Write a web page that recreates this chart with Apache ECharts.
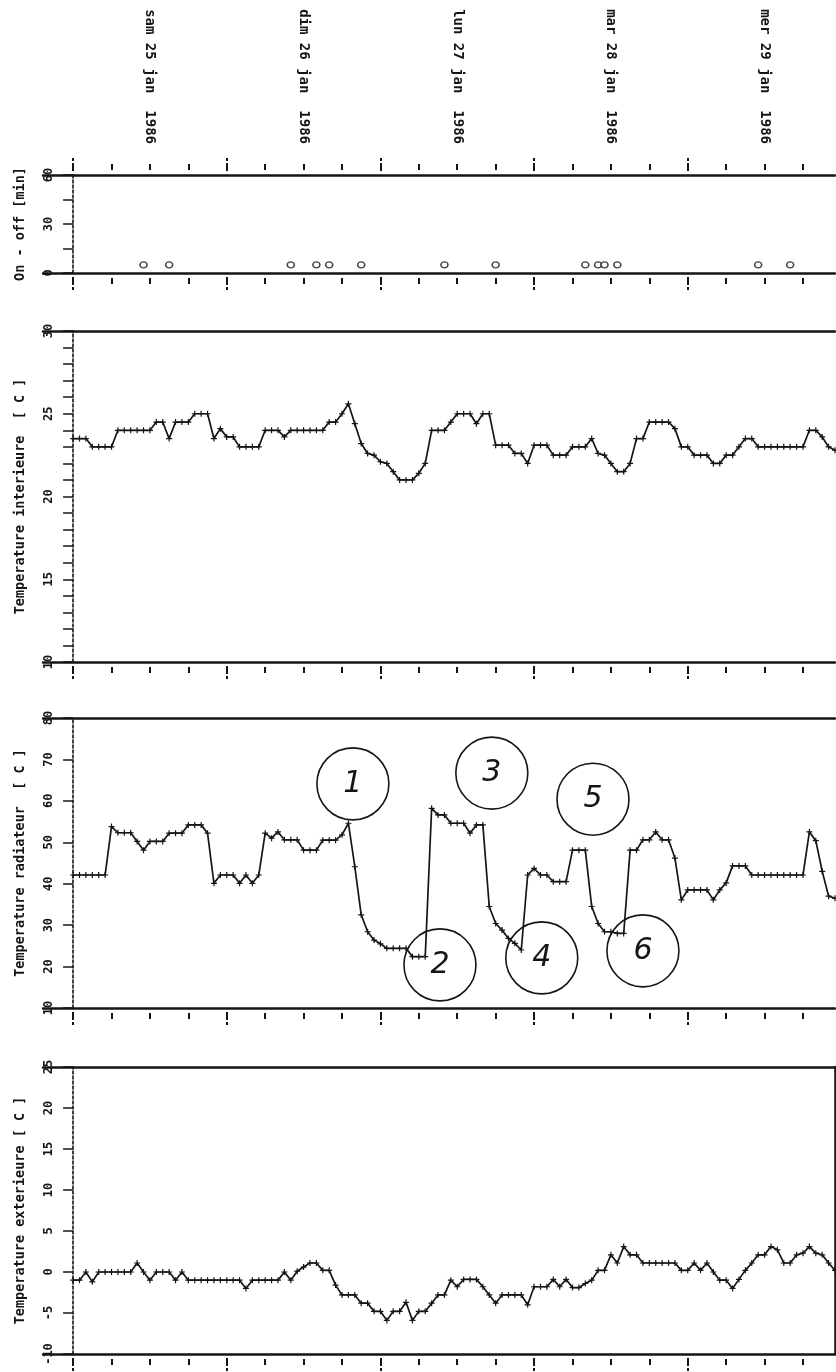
<!DOCTYPE html>
<html>
<head>
<meta charset="utf-8">
<script src="https://cdn.jsdelivr.net/npm/echarts@6/dist/echarts.min.js"></script>
<style>
  html, body { margin: 0; padding: 0; background: #ffffff; }
  #chart { width: 836px; height: 1372px; }
</style>
</head>
<body>
<div id="chart"></div>
<script>
// Day labels, placed at noon of each day (hours since sam 25 jan 00:00)
const dayLabels = ['sam 25 jan  1986', 'dim 26 jan  1986', 'lun 27 jan  1986', 'mar 28 jan  1986', 'mer 29 jan  1986'];
const dayNoonHours = [12, 36, 60, 84, 108];
const sixHourTicks = [0, 6, 12, 18, 24, 30, 36, 42, 48, 54, 60, 66, 72, 78, 84, 90, 96, 102, 108, 114];
const midnightTicks = [0, 24, 48, 72, 96];

// Burner on/off events: hour and duration in minutes
const onOffHours = [11, 15, 34, 38, 40, 45, 58, 66, 80, 82, 83, 85, 107, 112];
const onOffMinutes = [5, 5, 5, 5, 5, 5, 5, 5, 5, 5, 5, 5, 5, 5];

// Hourly readings, hour 0 .. 119
const tempInterieure = [
  23.5, 23.5, 23.5, 23.0, 23.0, 23.0, 23.0, 24.0, 24.0, 24.0, 24.0, 24.0,
  24.0, 24.5, 24.5, 23.5, 24.5, 24.5, 24.5, 25.0, 25.0, 25.0, 23.5, 24.1,
  23.6, 23.6, 23.0, 23.0, 23.0, 23.0, 24.0, 24.0, 24.0, 23.6, 24.0, 24.0,
  24.0, 24.0, 24.0, 24.0, 24.5, 24.5, 25.0, 25.6, 24.4, 23.2, 22.6, 22.5,
  22.1, 22.0, 21.5, 21.0, 21.0, 21.0, 21.4, 22.0, 24.0, 24.0, 24.0, 24.5,
  25.0, 25.0, 25.0, 24.4, 25.0, 25.0, 23.1, 23.1, 23.1, 22.6, 22.6, 22.0,
  23.1, 23.1, 23.1, 22.5, 22.5, 22.5, 23.0, 23.0, 23.0, 23.5, 22.6, 22.5,
  22.0, 21.5, 21.5, 22.0, 23.5, 23.5, 24.5, 24.5, 24.5, 24.5, 24.1, 23.0,
  23.0, 22.5, 22.5, 22.5, 22.0, 22.0, 22.5, 22.5, 23.0, 23.5, 23.5, 23.0,
  23.0, 23.0, 23.0, 23.0, 23.0, 23.0, 23.0, 24.0, 24.0, 23.6, 23.0, 22.8
];
const tempRadiateur = [
  42.1, 42.1, 42.1, 42.1, 42.1, 42.1, 53.8, 52.3, 52.3, 52.3, 50.2, 48.1,
  50.2, 50.2, 50.2, 52.2, 52.2, 52.2, 54.2, 54.2, 54.2, 52.2, 40.1, 42.1,
  42.1, 42.1, 40.1, 42.1, 40.1, 42.1, 52.2, 51.0, 52.5, 50.6, 50.6, 50.6,
  48.1, 48.1, 48.1, 50.5, 50.5, 50.5, 51.8, 54.6, 44.1, 32.5, 28.4, 26.4,
  25.5, 24.4, 24.4, 24.4, 24.4, 22.4, 22.4, 22.4, 58.2, 56.6, 56.6, 54.6,
  54.6, 54.6, 52.2, 54.2, 54.2, 34.5, 30.4, 28.8, 26.8, 25.6, 24.0, 42.1,
  43.7, 42.1, 42.1, 40.5, 40.5, 40.5, 48.1, 48.1, 48.1, 34.5, 30.4, 28.4,
  28.4, 28.0, 28.0, 48.1, 48.1, 50.6, 50.6, 52.5, 50.6, 50.6, 46.2, 36.1,
  38.5, 38.5, 38.5, 38.5, 36.1, 38.5, 40.2, 44.3, 44.3, 44.3, 42.1, 42.1,
  42.1, 42.1, 42.1, 42.1, 42.1, 42.1, 42.1, 52.5, 50.4, 43.0, 37.0, 36.5
];
const tempExterieure = [
  -1.0, -1.0, 0.0, -1.2, 0.0, 0.0, 0.0, 0.0, 0.0, 0.0, 1.1, 0.0,
  -1.0, 0.0, 0.0, 0.0, -1.0, 0.0, -1.0, -1.0, -1.0, -1.0, -1.0, -1.0,
  -1.0, -1.0, -1.0, -2.0, -1.0, -1.0, -1.0, -1.0, -1.0, 0.0, -1.0, 0.1,
  0.6, 1.1, 1.1, 0.2, 0.2, -1.6, -2.8, -2.8, -2.8, -3.8, -3.8, -4.8,
  -4.8, -5.9, -4.8, -4.8, -3.7, -5.9, -4.8, -4.8, -3.8, -2.8, -2.8, -1.0,
  -1.8, -0.9, -0.9, -0.9, -1.8, -2.8, -3.8, -2.8, -2.8, -2.8, -2.8, -4.0,
  -1.8, -1.8, -1.8, -0.9, -1.8, -0.9, -1.9, -1.9, -1.4, -1.0, 0.2, 0.2,
  2.1, 1.1, 3.1, 2.1, 2.1, 1.1, 1.1, 1.1, 1.1, 1.1, 1.1, 0.2,
  0.2, 1.1, 0.2, 1.1, 0.0, -1.0, -1.0, -2.0, -0.9, 0.2, 1.1, 2.1,
  2.1, 3.1, 2.7, 1.1, 1.1, 2.1, 2.3, 3.1, 2.3, 2.1, 1.1, 0.2
];

// Circled notes on the radiator curve: hour, temperature, label
const noteHours = [43.7, 57.3, 65.4, 73.2, 81.2, 89.0];
const noteValues = [64.1, 20.4, 66.7, 22.1, 60.4, 23.8];
const noteLabels = ['1', '2', '3', '4', '5', '6'];

const panelNames = ['On - off [min]', 'Temperature interieure  [ C ]', 'Temperature radiateur  [ C ]', 'Temperature exterieure [ C ]'];
const panelMin = [0, 10, 10, -10];
const panelMax = [60, 30, 80, 25];
const panelTickStep = [15, 1, 10, 5];
const panelLabelStep = [30, 5, 10, 5];

const INK = '#151515';
const MONO = 'DejaVu Sans Mono';
const GRID_LEFT = 43, GRID_WIDTH = 792;
const XMIN = -4.7, XMAX = 119;
// shift the value axis from the frame's left end onto hour 0
const Y_AXIS_SHIFT = -GRID_WIDTH * (0 - XMIN) / (XMAX - XMIN);
const plusSymbol = 'path://M2,0h1v2h2v1h-2v2h-1v-2h-2v-1h2z';

const gridBoxes = [
  { top: 175, height: 98 },
  { top: 331, height: 331 },
  { top: 718, height: 290 },
  { top: 1067, height: 287 }
];

const grid = gridBoxes.map(b => ({
  left: GRID_LEFT, width: GRID_WIDTH, top: b.top, height: b.height,
  containLabel: false, outerBoundsMode: 'none'
}));
const xAxis = [];
const yAxis = [];
const frameAxisIndex = [];

function baseX(gi, position) {
  return {
    type: 'value', gridIndex: gi, min: XMIN, max: XMAX, position: position,
    splitLine: { show: false },
    axisLine: { show: false, onZero: false },
    axisTick: { show: false },
    axisLabel: { show: false }
  };
}

gridBoxes.forEach((b, gi) => {
  // frame line at bottom and top
  const bottom = baseX(gi, 'bottom');
  bottom.axisLine = { show: true, onZero: false, lineStyle: { color: INK, width: 2.5 } };
  frameAxisIndex.push(xAxis.length);
  xAxis.push(bottom);
  const top = baseX(gi, 'top');
  top.axisLine = { show: true, onZero: false, lineStyle: { color: INK, width: 2.5 } };
  xAxis.push(top);

  const sides = gi === 0 ? ['bottom', 'top'] : ['bottom'];
  sides.forEach(side => {
    const minor = baseX(gi, side);
    minor.offset = 5;
    minor.axisTick = { show: true, customValues: sixHourTicks, length: 6, lineStyle: { color: INK, width: 2 } };
    xAxis.push(minor);
    const major = baseX(gi, side);
    major.offset = 4;
    major.axisTick = { show: true, customValues: midnightTicks, length: 14, lineStyle: { color: INK, width: 2, type: [3, 2] } };
    xAxis.push(major);
  });

  if (gi === 0) {
    const dates = baseX(gi, 'top');
    dates.axisLabel = {
      show: true, customValues: dayNoonHours, rotate: 90, margin: 31,
      color: INK, fontFamily: MONO, fontWeight: 'bold', fontSize: 14,
      formatter: v => dayLabels[dayNoonHours.indexOf(v)] || ''
    };
    xAxis.push(dates);
  }

  const step = panelLabelStep[gi];
  yAxis.push({
    type: 'value', gridIndex: gi, position: 'left', offset: Y_AXIS_SHIFT,
    min: panelMin[gi], max: panelMax[gi], interval: panelTickStep[gi],
    name: panelNames[gi], nameLocation: 'middle', nameRotate: 90, nameGap: 46, nameMoveOverlap: false,
    nameTextStyle: { color: INK, fontFamily: MONO, fontWeight: 'bold', fontSize: 13.5 },
    splitLine: { show: false },
    axisLine: { show: true, onZero: false, lineStyle: { color: INK, width: 1.6, type: [3, 2] } },
    axisTick: { show: true, inside: false, length: 10, lineStyle: { color: INK, width: 1.5 } },
    axisLabel: {
      show: true, rotate: 90, margin: 18, color: INK, fontFamily: MONO, fontWeight: 'bold', fontSize: 12,
      formatter: v => (Math.abs(v % step) < 1e-9 ? String(v) : '')
    }
  });
});

// right border of the bottom panel
yAxis.push({
  type: 'value', gridIndex: 3, min: panelMin[3], max: panelMax[3], position: 'right',
  splitLine: { show: false },
  axisLine: { show: true, onZero: false, lineStyle: { color: INK, width: 2.5 } },
  axisTick: { show: false }, axisLabel: { show: false }
});

const pairs = arr => arr.map((v, i) => [i, v]);
const lineSeries = (gi, values) => ({
  type: 'line', xAxisIndex: frameAxisIndex[gi], yAxisIndex: gi,
  data: pairs(values),
  symbol: plusSymbol, symbolSize: 6, showSymbol: true, showAllSymbol: true,
  lineStyle: { color: INK, width: 1.7 },
  itemStyle: { color: INK },
  silent: true
});

const radiator = lineSeries(2, tempRadiateur);
radiator.markPoint = {
  symbol: 'circle', symbolSize: 72, silent: true,
  itemStyle: { color: 'rgba(0,0,0,0)', borderColor: INK, borderWidth: 1.6 },
  label: {
    show: true, position: 'inside', color: INK, fontSize: 30, fontStyle: 'italic',
    fontFamily: 'DejaVu Sans', formatter: p => p.data.label
  },
  data: noteLabels.map((t, i) => ({ coord: [noteHours[i], noteValues[i]], label: t, value: t }))
};

const series = [
  {
    type: 'scatter', xAxisIndex: frameAxisIndex[0], yAxisIndex: 0,
    data: onOffHours.map((h, i) => [h, onOffMinutes[i]]),
    symbol: 'circle', symbolSize: [7, 6],
    itemStyle: { color: '#ffffff', borderColor: INK, borderWidth: 1.5 },
    silent: true
  },
  lineSeries(1, tempInterieure),
  radiator,
  lineSeries(3, tempExterieure)
];

const chart = echarts.init(document.getElementById('chart'), null, { renderer: 'canvas' });
chart.setOption({
  animation: false,
  backgroundColor: '#ffffff',
  grid: grid,
  xAxis: xAxis,
  yAxis: yAxis,
  series: series
});
</script>
</body>
</html>
